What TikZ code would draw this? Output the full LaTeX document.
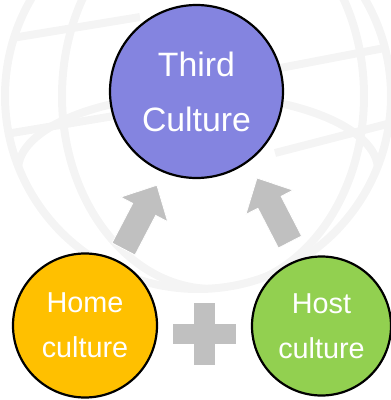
\documentclass[tikz,border=0pt]{standalone}
\usepackage{fontspec}
\setmainfont{Liberation Sans}
\definecolor{thirdc}{RGB}{132,132,224}
\definecolor{homec}{RGB}{255,192,0}
\definecolor{hostc}{RGB}{146,208,80}
\definecolor{globec}{RGB}{244,244,244}
\definecolor{arrowc}{RGB}{192,192,192}
\begin{document}
\begin{tikzpicture}[x=1pt,y=-1pt,
  culture/.style={circle, draw=black, line width=2.2pt, inner sep=0pt, text=white, align=center},
  bigtext/.style={font=\fontsize{33.8}{55}\selectfont},
  smalltext/.style={font=\fontsize{28.8}{45}\selectfont},
  globeline/.style={draw=globec, line width=8pt},
  blockarrow/.style={fill=arrowc, draw=white, line width=0.8pt, line join=miter}]
\useasboundingbox (0,0) rectangle (391,400);
% faint globe background
\begin{scope}
  \clip (0,0) rectangle (391,400);
  \draw[globeline] (198,96) circle [radius=193];
  \begin{scope}
    \clip (198,96) circle [radius=190];
    \draw[globeline] (213,96) ellipse [x radius=151, y radius=193];
    \draw[globeline] (0,40) -- (140,17);
    \draw[globeline] (0,135) -- (120,115);
    \draw[globeline] (275,69) -- (395,46);
    \draw[globeline] (275,153) -- (395,122);
    \draw[globeline] (18,170) arc [start angle=180, end angle=360, x radius=180, y radius=75];
  \end{scope}
\end{scope}
% circles
\node[culture, fill=thirdc, minimum size=173pt, bigtext] (third) at (196.5,91.5) {Third\\Culture};
\node[culture, fill=homec, minimum size=144pt, smalltext] (home) at (85,325.5) {Home\\culture};
\node[culture, fill=hostc, minimum size=139pt, smalltext] (host) at (321.5,326) {Host\\culture};
% block arrows
\filldraw[blockarrow] (135,255) -- (155.7,215.4) -- (167.7,221.7) -- (156.9,185.2)
  -- (120.7,197.1) -- (132.7,203.4) -- (112,243) -- cycle;
\filldraw[blockarrow] (301.6,236) -- (281.1,196.3) -- (293.1,190.2) -- (257,178)
  -- (245.9,214.4) -- (257.9,208.3) -- (278.4,248) -- cycle;
% plus sign
\fill[arrowc] (173,324) rectangle (236,344);
\fill[arrowc] (194,303) rectangle (215,365);
\end{tikzpicture}
\end{document}
